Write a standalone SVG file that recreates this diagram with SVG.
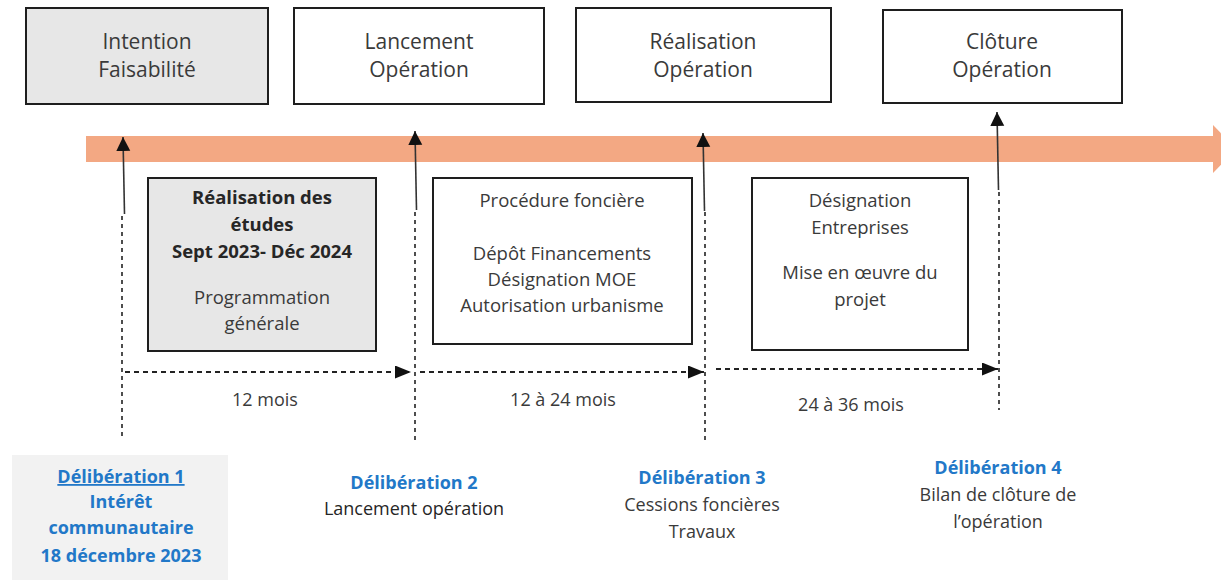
<svg xmlns="http://www.w3.org/2000/svg" width="1221" height="580" viewBox="0 0 1221 580">
  <defs>
    <style>
      .box { fill: #ffffff; stroke: #1e1e1e; stroke-width: 2; }
      .grey { fill: #e7e7e7; }
      .t { font-family: "Open Sans", "Liberation Sans", sans-serif; fill: #3a3a3a; text-anchor: middle; }
      .top { font-size: 21px; }
      .mid { font-size: 18.5px; }
      .midb { font-size: 18.5px; font-weight: bold; fill: #262626; }
      .lab { font-size: 18px; }
      .blue { font-family: "Open Sans", "Liberation Sans", sans-serif; font-size: 18px; font-weight: bold; fill: #2278c8; text-anchor: middle; }
      .solid { stroke: #333333; stroke-width: 1.6; fill: none; }
      .vdash { stroke: #222222; stroke-width: 1.6; stroke-dasharray: 4 4; fill: none; }
      .hdash { stroke: #222222; stroke-width: 1.8; stroke-dasharray: 5 4; fill: none; }
    </style>
    <marker id="up" markerUnits="userSpaceOnUse" markerWidth="14" markerHeight="16" refX="14" refY="7" orient="auto">
      <path d="M0,0 L14,7 L0,14 Z" fill="#111111"/>
    </marker>
    <marker id="right" markerUnits="userSpaceOnUse" markerWidth="16" markerHeight="14" refX="16" refY="6.5" orient="auto">
      <path d="M0,0 L16,6.5 L0,13 Z" fill="#111111"/>
    </marker>
  </defs>

  <rect width="1221" height="580" fill="#ffffff"/>

  <!-- timeline band -->
  <g id="timeline">
    <rect x="86" y="136" width="1128" height="26" fill="#f3a883"/>
    <polygon points="1213,125 1236,149 1213,173" fill="#f3a883"/>
  </g>

  <!-- top phase boxes -->
  <g id="phase1">
    <rect class="box grey" x="26" y="8" width="242" height="96"/>
    <text class="t top" x="147" y="49">Intention</text>
    <text class="t top" x="147" y="77">Faisabilité</text>
  </g>
  <g id="phase2">
    <rect class="box" x="294" y="8" width="250" height="96"/>
    <text class="t top" x="419" y="49">Lancement</text>
    <text class="t top" x="419" y="77">Opération</text>
  </g>
  <g id="phase3">
    <rect class="box" x="576" y="8" width="255" height="94"/>
    <text class="t top" x="703" y="49">Réalisation</text>
    <text class="t top" x="703" y="77">Opération</text>
  </g>
  <g id="phase4">
    <rect class="box" x="883" y="10" width="239" height="93"/>
    <text class="t top" x="1002" y="49">Clôture</text>
    <text class="t top" x="1002" y="77">Opération</text>
  </g>

  <!-- middle task boxes -->
  <g id="task1">
    <rect class="box grey" x="148" y="178" width="228" height="173"/>
    <text class="t midb" x="262" y="204">Réalisation des</text>
    <text class="t midb" x="262" y="231">études</text>
    <text class="t midb" x="262" y="258">Sept 2023- Déc 2024</text>
    <text class="t mid" x="262" y="304">Programmation</text>
    <text class="t mid" x="262" y="330">générale</text>
  </g>
  <g id="task2">
    <rect class="box" x="433" y="178" width="259" height="166"/>
    <text class="t mid" x="562" y="207">Procédure foncière</text>
    <text class="t mid" x="562" y="260">Dépôt Financements</text>
    <text class="t mid" x="562" y="286">Désignation MOE</text>
    <text class="t mid" x="562" y="312">Autorisation urbanisme</text>
  </g>
  <g id="task3">
    <rect class="box" x="752" y="178" width="216" height="172"/>
    <text class="t mid" x="860" y="207">Désignation</text>
    <text class="t mid" x="860" y="234">Entreprises</text>
    <text class="t mid" x="860" y="279">Mise en œuvre du</text>
    <text class="t mid" x="860" y="306">projet</text>
  </g>

  <!-- connectors -->
  <g id="connectors">
    <line class="solid" x1="124.5" y1="214" x2="123" y2="137" marker-end="url(#up)"/>
    <line class="solid" x1="416.5" y1="210" x2="415" y2="131" marker-end="url(#up)"/>
    <line class="solid" x1="704.5" y1="211" x2="703" y2="133" marker-end="url(#up)"/>
    <line class="solid" x1="998.5" y1="190" x2="997" y2="112" marker-end="url(#up)"/>

    <line class="vdash" x1="122" y1="216" x2="122" y2="440"/>
    <line class="vdash" x1="415" y1="212" x2="415" y2="440"/>
    <line class="vdash" x1="705" y1="212" x2="705" y2="441"/>
    <line class="vdash" x1="999" y1="192" x2="999" y2="410"/>

    <line class="hdash" x1="125" y1="372" x2="411" y2="372" marker-end="url(#right)"/>
    <line class="hdash" x1="420" y1="372" x2="704" y2="372" marker-end="url(#right)"/>
    <line class="hdash" x1="716" y1="369" x2="998" y2="369" marker-end="url(#right)"/>
  </g>

  <!-- durations -->
  <g id="durations">
    <text class="t lab" x="265" y="406">12 mois</text>
    <text class="t lab" x="563" y="406">12 à 24 mois</text>
    <text class="t lab" x="851" y="411">24 à 36 mois</text>
  </g>

  <!-- deliberations -->
  <g id="delib1">
    <rect x="12" y="455" width="216" height="125" fill="#f2f2f2"/>
    <text class="blue" x="121" y="483" text-decoration="underline">Délibération 1</text>
    <text class="blue" x="121" y="508">Intérêt</text>
    <text class="blue" x="121" y="534">communautaire</text>
    <text class="blue" x="121" y="562">18 décembre 2023</text>
  </g>
  <g id="delib2">
    <text class="blue" x="414" y="489">Délibération 2</text>
    <text class="t lab" x="414" y="515" style="fill:#262626">Lancement opération</text>
  </g>
  <g id="delib3">
    <text class="blue" x="702" y="484">Délibération 3</text>
    <text class="t lab" x="702" y="511">Cessions foncières</text>
    <text class="t lab" x="702" y="538">Travaux</text>
  </g>
  <g id="delib4">
    <text class="blue" x="998" y="474">Délibération 4</text>
    <text class="t lab" x="998" y="501">Bilan de clôture de</text>
    <text class="t lab" x="998" y="528">l’opération</text>
  </g>
</svg>
